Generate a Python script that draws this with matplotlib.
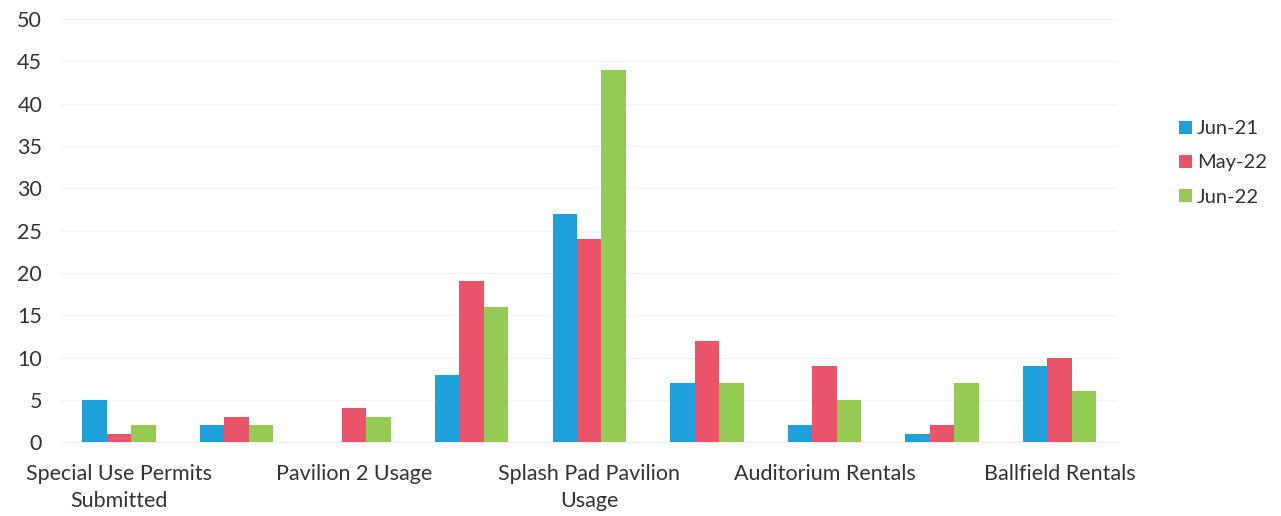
import matplotlib
matplotlib.use("Agg")
import matplotlib.pyplot as plt
import numpy as np

categories = [
    "Special Use Permits\nSubmitted", "",
    "Pavilion 2 Usage", "",
    "Splash Pad Pavilion\nUsage", "",
    "Auditorium Rentals", "",
    "Ballfield Rentals",
]
series_names = ["Jun-21", "May-22", "Jun-22"]
jun21 = [5, 2, 0, 8, 27, 7, 2, 1, 9]
may22 = [1, 3, 4, 19, 24, 12, 9, 2, 10]
jun22 = [2, 2, 3, 16, 44, 7, 5, 7, 6]
colors = ["#1fa0da", "#e9546a", "#95cb55"]
y_ticks = list(range(0, 51, 5))

plt.rcParams["font.family"] = ["Lato", "DejaVu Sans"]

fig = plt.figure(figsize=(12.81, 5.16), dpi=100)
ax = fig.add_axes([0.047, 0.143, 0.826, 0.82])

x = np.arange(len(categories))
width = 0.208
for i, (name, vals, col) in enumerate(zip(series_names, [jun21, may22, jun22], colors)):
    ax.bar(x + (i - 1) * width, vals, width, color=col, label=name, zorder=3)

ax.set_xlim(-0.5, len(categories) - 0.5)
ax.set_ylim(0, 50)
ax.set_yticks(y_ticks)
ax.set_yticklabels([str(v) for v in y_ticks], fontsize=15.5, color="#333333")
ax.yaxis.grid(True, color="#f3f3f3", linewidth=1, zorder=0)
ax.set_axisbelow(True)

shown = [i for i, c in enumerate(categories) if c]
ax.set_xticks(shown)
ax.set_xticklabels([categories[i] for i in shown], fontsize=15.5, color="#333333",
                   linespacing=1.4)
ax.tick_params(axis="both", length=0)
ax.tick_params(axis="x", pad=16)
ax.tick_params(axis="y", pad=13)

for s in ["top", "right", "left"]:
    ax.spines[s].set_visible(False)
ax.spines["bottom"].set_color("#f0f0f0")

leg = ax.legend(loc="center left", bbox_to_anchor=(1.04, 0.66), frameon=False,
                fontsize=14.5, handlelength=0.65, handleheight=0.65, handletextpad=0.25,
                labelspacing=0.85, labelcolor="#333333")

fig.savefig("out.png", dpi=100, facecolor="white")
